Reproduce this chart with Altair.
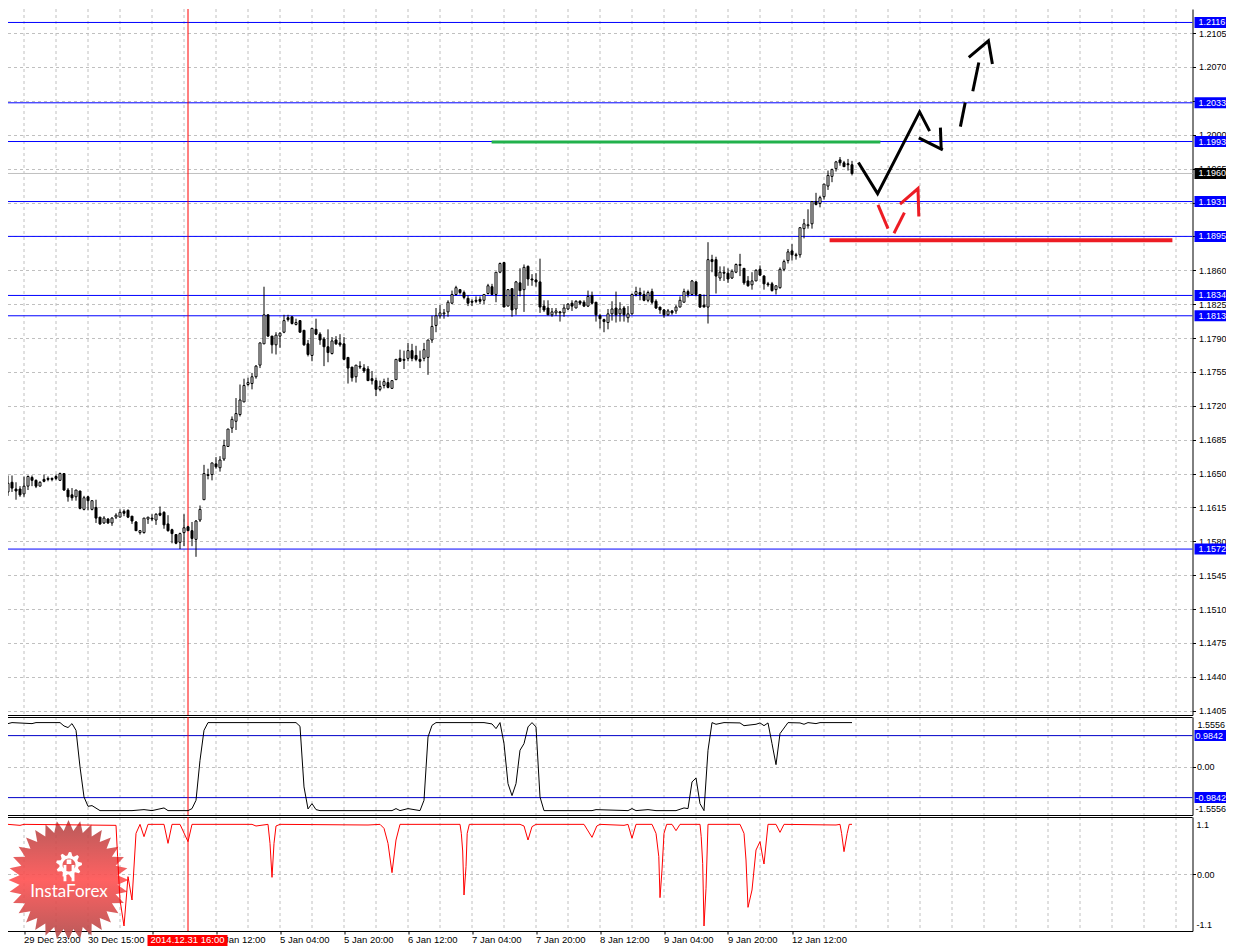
import math
import altair as alt
import pandas as pd

# ---- candles: pips above 1.1000, one value per hourly bar, first bar index 2
FIRST_BAR = 2
OPEN = [631,641,634,634,629,637,646,643,637,644,
645,645,647,643,650,633,628,626,632,613,
626,613,615,605,599,603,599,605,605,611,
612,606,600,589,589,603,604,602,609,610,
598,592,587,579,589,595,591,582,602,623,
648,649,660,656,665,678,697,704,711,724,
742,743,750,762,784,814,792,783,792,796,
811,812,804,808,798,784,772,799,794,789,
781,774,788,785,784,770,760,750,761,759,
758,748,746,737,741,744,738,747,769,768,
769,777,772,768,769,770,788,803,813,815,
817,826,835,840,837,831,828,829,830,829,
836,843,835,858,868,823,841,820,847,840,
864,851,850,848,823,821,814,816,817,816,
820,826,821,828,827,823,834,827,813,809,
806,815,821,815,821,811,815,835,837,835,
829,838,828,822,819,814,818,818,822,827,
838,835,848,835,824,822,871,871,852,858,
857,852,858,865,862,849,845,849,861,854,
846,846,840,842,861,870,880,876,876,903,
906,908,931,929,936,947,957,965,974,971,
970,969]
HIGH = [648,648,641,637,647,648,648,644,642,649,
647,646,649,651,650,635,635,633,632,627,
627,622,623,605,606,604,605,609,613,613,
613,606,601,591,604,605,608,609,616,611,
607,593,587,589,608,596,600,602,617,659,
655,661,667,668,685,696,709,728,742,748,
749,754,762,785,843,814,792,796,796,814,
814,812,810,808,798,788,800,810,796,791,
799,791,792,794,791,770,760,762,766,763,
761,756,749,746,748,749,746,768,778,777,
785,784,782,777,785,788,813,821,824,820,
829,839,844,840,839,834,830,833,833,835,
846,846,858,868,868,840,841,849,862,866,
865,856,857,872,829,829,821,821,818,825,
826,829,829,829,829,839,838,827,815,810,
820,828,838,827,823,823,836,843,842,839,
839,841,830,822,820,820,819,824,833,841,
840,850,849,835,835,889,876,874,864,864,
862,861,867,877,862,854,858,861,865,855,
848,848,844,863,871,882,887,878,904,913,
923,931,940,937,949,963,965,973,977,973,
975,973]
LOW = [627,631,623,626,626,633,637,635,637,641,
642,642,643,643,632,621,622,622,613,612,
612,612,599,597,598,598,596,603,605,606,
604,598,591,587,588,598,601,597,606,593,
590,578,577,572,575,591,575,564,600,623,
644,643,655,652,663,678,692,695,709,724,
740,737,748,759,784,791,774,773,780,795,
807,804,803,796,782,771,766,793,783,761,
765,773,783,781,767,743,745,744,758,754,
746,742,730,735,738,738,738,747,766,758,
766,766,766,759,766,752,785,796,810,810,
812,825,834,835,830,823,823,826,825,825,
835,835,827,857,822,823,812,814,833,817,
844,844,843,816,817,814,812,813,807,812,
819,818,821,824,822,822,825,807,800,796,
799,808,806,807,807,806,814,833,829,828,
827,825,820,815,811,813,814,815,822,827,
832,835,833,821,822,805,858,836,849,849,
847,851,857,854,845,843,840,849,854,840,
843,838,835,841,859,867,870,871,873,893,
903,903,927,925,933,943,951,962,968,967,
963,958]
CLOSE = [640,635,632,628,637,647,643,637,641,642,
644,644,645,650,633,626,625,633,614,625,
622,622,604,598,604,599,604,607,610,609,
605,601,591,591,604,605,603,608,607,597,
591,588,578,588,594,591,583,601,613,650,
649,661,657,664,679,696,706,712,726,741,
744,750,761,785,814,792,783,793,795,808,
809,805,806,796,783,773,800,794,788,781,
775,787,784,783,768,759,749,762,760,756,
746,746,737,740,745,739,746,768,766,767,
777,769,768,766,778,788,802,813,816,816,
827,835,842,837,832,826,827,828,828,835,
844,835,858,867,822,840,819,848,839,863,
851,850,848,822,819,814,817,818,816,821,
825,823,828,826,823,833,826,814,810,807,
815,820,814,820,814,815,835,838,835,829,
837,827,821,819,814,818,816,822,829,838,
835,849,835,822,822,871,869,854,858,857,
851,859,866,866,847,844,849,860,855,846,
845,839,844,861,869,879,876,875,904,908,
907,931,928,935,949,958,964,972,971,967,
969,960]

# ---- upper indicator
OSC_K = [2,3,8,9,15,16,17,18,19,20,21,22,23,25,33,36,38,41,42,47,48,49,50,51,52,74,75,76,77,78,79,80,98,99,100,102,105,
106,107,108,109,121,123,124,125,126,127,128,129,130,131,132,133,134,135,136,148,149,157,158,159,162,164,169,171,172,173,174,175,176,177,178,179,181,185,186,189,190,191,192,193,194,195,197,200,201,202,204,205,213]
OSC_V = [1.365,1.397,1.365,1.397,1.397,1.29,1.24,1.365,1.153,-0.01,-0.963,-1.26,-1.238,-1.397,-1.397,-1.365,-1.397,-1.312,-1.397,-1.397,-1.333,-1.069,0.2,1.153,1.397,1.397,1.28,-0.645,-1.344,-1.175,-1.365,-1.397,-1.397,-1.333,-1.397,-1.333,-1.397,
-1.069,0.94,1.31,1.397,1.397,1.355,1.206,1.397,0.73,-0.54,-0.92,-0.54,0.519,0.73,1.26,1.397,1.26,-0.963,-1.397,-1.397,-1.365,-1.397,-1.333,-1.397,-1.365,-1.397,-1.397,-1.312,-1.333,-0.487,-0.36,-1.175,-1.397,0.519,1.397,1.344,1.397,1.387,1.30,1.344,1.387,1.30,1.387,0.73,0.063,1.048,1.397,1.387,1.344,1.397,1.365,1.397,1.397]

# ---- lower indicator
LOW_K = [2,5,6,29,29.4,30,31,32,33,34,35,36,37,41,42,43,45,47,48,63,64,67,67.5,68,68.5,69,70,92,95,96,97,98,99,100,
115,115.33,115.67,116,116.5,116.8,117.33,130,131,132,133,134,146,148,149.2,150,156,157,158,159,163,164,164.7,165,165.5,166,166.67,168,169,170,175,175.3,175.67,176,176.5,177,185,186,186.5,187,188,189,190,190.8,191,192,194,195,196,209,210,210.4,211,211.8,212.3,213]
LOW_V = [0.993,0.973,0.993,0.973,0.347,-0.52,-1.04,-0.053,-0.52,0.813,0.993,0.747,0.993,0.993,0.613,0.993,0.993,0.647,0.993,0.993,0.96,0.993,0.613,-0.067,0.613,0.96,0.993,0.98,0.993,0.913,0.613,0.027,0.68,0.993,
0.993,0.813,0.46,-0.42,0.147,0.813,0.993,0.993,0.96,0.68,0.947,0.993,0.993,0.733,0.96,0.993,0.973,0.993,0.713,0.993,0.993,0.813,0.347,-0.473,0.08,0.813,0.993,0.993,0.867,0.993,0.993,0.747,0.213,-1.04,-0.287,0.993,0.993,0.813,0.28,-0.667,-0.32,0.48,0.647,0.28,0.2,0.993,0.993,0.833,0.993,0.98,0.993,0.813,0.447,0.813,0.993,0.993]

# ---- price levels and labels
LEVELS = [1.2116, 1.2033, 1.1993, 1.1931, 1.1895, 1.1834, 1.1813, 1.1572]
LAST_PRICE = 1.1960
PRICE_TICKS = [1.2105,1.2070,1.2035,1.2000,1.1965,1.1930,1.1895,1.1860,1.1825,1.1790,1.1755,1.1720,
               1.1685,1.1650,1.1615,1.1580,1.1545,1.1510,1.1475,1.1440,1.1405]
OSC_LEVELS = [0.9842, -0.9842]
CROSS_BAR = 47
CROSS_LABEL = "2014.12.31 16:00"
TIME_K = [6,22,54,70,86,102,118,134,150,166,182,198]
TIME_TXT = ["29 Dec 23:00","30 Dec 15:00","2 Jan 12:00","5 Jan 04:00","5 Jan 20:00","6 Jan 12:00",
            "7 Jan 04:00","7 Jan 20:00","8 Jan 12:00","9 Jan 04:00","9 Jan 20:00","12 Jan 12:00"]
TICK_K = [6+16*i for i in range(13)]
GRID_K = [6+8*i for i in range(37)]

# ---- hand-drawn strokes: (bar index, pips above 1.1000)
BLACK_STROKES = [
    [(214.6,971.3),(219.4,939.2),(229.9,1023.6),(232.4,1003.7)],
    [(229.7,996.8),(235.7,984.4)],
    [(235.1,1007.4),(235.3,985.1)],
    [(240.1,1008.4),(241.3,1033.2)],
    [(243.2,1045),(244.7,1074.6)],
    [(242.2,1080),(247.1,1097),(248.1,1073)],
]
RED_STROKES = [
    [(219.5,927.6),(222,903.1)],
    [(223.5,898.3),(226.1,919.6)],
    [(225,928.3),(229.5,944.4),(229.7,915.5)],
]
GREEN_BAR = [(122.9,992.6),(220.1,992.6)]
RED_BAR = [(207.4,890.9),(293.1,890.9)]

FONT = "Liberation Sans"
GRID = "#c0c0c0"
BLUE = "#0000ff"
W = 1185
H1, H2, H3 = 706, 98, 114
XS = alt.Scale(domain=[1.875, 298.125], nice=False, zero=False, padding=0)
pscale = alt.Scale(domain=[1.14006, 1.21299], nice=False, zero=False)
oscale = alt.Scale(domain=[-1.536, 1.575], nice=False, zero=False)
lscale = alt.Scale(domain=[-1.14, 1.14], nice=False, zero=False)

def px(v):
    return 1.1 + v / 10000

x_frame = alt.Axis(values=[100], grid=False, labels=False, ticks=False, domain=True, domainColor="black", title=None)
x_ticks = alt.Axis(values=TICK_K, grid=False, labels=False, ticks=True, tickSize=3, tickColor="black",
                   domain=True, domainColor="black", title=None)
price_axis = alt.Axis(orient="right", values=PRICE_TICKS, format=".4f", grid=True, gridColor=GRID, gridDash=[3, 3],
                      domain=True, domainColor="black", ticks=True, tickColor="black", tickSize=3,
                      labelPadding=3, labelFont=FONT, labelFontSize=9, labelColor="black", title=None,
                      labelOverlap=False, labelFlush=False)

def zero_axis():
    return alt.Axis(orient="right", values=[0], format=".2f", grid=True, gridColor=GRID, gridDash=[3, 3],
                    domain=True, domainColor="black", ticks=True, tickColor="black", tickSize=3,
                    labelPadding=1, labelFont=FONT, labelFontSize=9, labelColor="black", title=None)

class Panel:
    def __init__(self, xaxis, yscale, yaxis):
        self.xaxis, self.yscale, self.yaxis = xaxis, yscale, yaxis
    def X(self):
        return alt.X("k:Q", scale=XS, axis=self.xaxis, title=None)
    def Y(self, f):
        return alt.Y(f, scale=self.yscale, axis=self.yaxis, title=None)
    def grid(self):
        return alt.Chart(pd.DataFrame({"k": GRID_K})).mark_rule(color=GRID, strokeDash=[3, 3], strokeWidth=1).encode(x=self.X())
    def cross(self, top, bottom):
        return alt.Chart(pd.DataFrame({"k": [CROSS_BAR]})).mark_rule(color="#ff0000", strokeWidth=1).encode(
            x=self.X(), y=alt.value(top), y2=alt.value(bottom))
    def hline(self, values, color):
        return alt.Chart(pd.DataFrame({"v": values})).mark_rule(color=color, strokeWidth=1).encode(y=self.Y("v:Q"))
    def box(self, values, labels, color, x0, x1, xt):
        df = pd.DataFrame({"v": values, "t": labels})
        r = alt.Chart(df).mark_rule(color=color, strokeWidth=11).encode(x=alt.value(x0), x2=alt.value(x1), y=self.Y("v:Q"))
        t = alt.Chart(df).mark_text(color="white", align="left", baseline="middle", font=FONT, fontSize=9).encode(
            x=alt.value(xt), y=self.Y("v:Q"), text="t:N")
        return [r, t]
    def stroke(self, points, color, width):
        df = pd.DataFrame({"k": [p[0] for p in points], "p": [px(p[1]) for p in points], "o": range(len(points))})
        return alt.Chart(df).mark_line(color=color, strokeWidth=width, strokeCap="butt", strokeJoin="miter").encode(
            x=self.X(), y=self.Y("p:Q"), order="o:O")

def text_at(label, x, y, color="black", size=9, align="left", font=FONT):
    return alt.Chart(pd.DataFrame({"t": [label]})).mark_text(
        color=color, align=align, baseline="middle", font=font, fontSize=size).encode(
        x=alt.value(x), y=alt.value(y), text="t:N")

def top_line():
    return alt.Chart(pd.DataFrame({"a": [0]})).mark_rule(color="black", strokeWidth=1).encode(
        x=alt.value(0), x2=alt.value(W), y=alt.value(0.5))

def align_stub():
    # invisible mark that gives every panel the same left extent, so the panels line up
    return alt.Chart(pd.DataFrame({"a": [0]})).mark_rule(opacity=0, strokeWidth=1).encode(
        x=alt.value(-6), y=alt.value(10), y2=alt.value(11))

# ---- main panel
P1 = Panel(x_frame, pscale, price_axis)
n = len(OPEN)
candles = pd.DataFrame({
    "k": list(range(FIRST_BAR, FIRST_BAR + n)),
    "o": [px(v) for v in OPEN],
    "h": [px(v) for v in HIGH],
    "l": [px(v) for v in LOW],
    "c": [px(v) for v in CLOSE],
})
candles["f"] = ["white" if c >= o else "black" for o, c in zip(OPEN, CLOSE)]

wicks = alt.Chart(candles).mark_rule(color="black", strokeWidth=1).encode(x=P1.X(), y=P1.Y("l:Q"), y2="h:Q")
bodies = alt.Chart(candles).mark_bar(size=2, stroke="black", strokeWidth=1).encode(
    x=P1.X(), y=P1.Y("o:Q"), y2="c:Q", fill=alt.Fill("f:N", scale=None))

layers1 = [align_stub(), P1.grid(), P1.hline([LAST_PRICE], GRID), P1.hline(LEVELS, BLUE), P1.cross(0, H1), wicks, bodies]
layers1 += [P1.stroke(s, "black", 3) for s in BLACK_STROKES]
layers1 += [P1.stroke(s, "#ed1c24", 3) for s in RED_STROKES]
layers1 += [P1.stroke(GREEN_BAR, "#22b14c", 3), P1.stroke(RED_BAR, "#ed1c24", 4)]
layers1 += P1.box(LEVELS, [f"{v:.4f}" for v in LEVELS], BLUE, 1187, 1219, 1191)
layers1 += P1.box([LAST_PRICE], [f"{LAST_PRICE:.4f}"], "black", 1187, 1219, 1191)
panel1 = alt.layer(*layers1).properties(width=W, height=H1)

# ---- upper indicator panel
P2 = Panel(x_frame, oscale, zero_axis())
osc = alt.Chart(pd.DataFrame({"k": OSC_K, "v": OSC_V})).mark_line(color="black", strokeWidth=1).encode(
    x=P2.X(), y=P2.Y("v:Q"))
layers2 = [align_stub(), P2.grid(), top_line(), P2.hline(OSC_LEVELS, "#0000c8"), P2.cross(0, H2), osc]
layers2 += P2.box(OSC_LEVELS, ["0.9842", "-0.9842"], BLUE, 1187, 1219, 1188)
layers2 += [text_at("1.5556", 1190, 7.7), text_at("-1.5556", 1188, 92)]
panel2 = alt.layer(*layers2).properties(width=W, height=H2)

# ---- lower indicator panel
P3 = Panel(x_ticks, lscale, zero_axis())
low_line = alt.Chart(pd.DataFrame({"k": LOW_K, "v": LOW_V})).mark_line(color="#ff0000", strokeWidth=1).encode(
    x=P3.X(), y=P3.Y("v:Q"))

# logo shapes, unit path coordinates
star_pts = []
SPIKES = 32
for i in range(SPIKES * 2):
    r = 1.0 if i % 2 == 0 else 0.82
    a = math.pi * i / SPIKES - math.pi / 2
    star_pts.append(f"{r*math.cos(a):.4f},{r*math.sin(a):.4f}")
STAR = "M" + "L".join(star_pts) + "Z"

gear_pts = []
TEETH = 9
for i in range(TEETH * 4):
    r = 1.0 if i % 4 in (0, 1) else 0.74
    a = 2 * math.pi * i / (TEETH * 4) - math.pi / 2
    gear_pts.append(f"{r*math.cos(a):.4f},{r*math.sin(a):.4f}")
hole = []
for i in range(24, -1, -1):
    a = 2 * math.pi * i / 24
    hole.append(f"{0.5*math.cos(a):.4f},{0.5*math.sin(a):.4f}")
GEAR = ("M" + "L".join(gear_pts) + "Z" + "M" + "L".join(hole) + "Z"
        + "M-0.42,0.0L-0.2,0.0L-0.2,1.25L-0.42,1.25Z"
        + "M0.2,0.0L0.42,0.0L0.42,1.25L0.2,1.25Z"
        + "M-0.18,-0.42L0.18,-0.42L0.18,-0.08L-0.18,-0.08Z")

gradient = alt.Gradient(gradient="linear", x1=0, x2=0, y1=0, y2=1, stops=[
    alt.GradientStop(color="#b04848", offset=0),
    alt.GradientStop(color="#ff5050", offset=0.5),
    alt.GradientStop(color="#b04848", offset=1)])
dot = pd.DataFrame({"a": [0]})
star = alt.Chart(dot).mark_point(shape=STAR, filled=True, fill=gradient, size=14400, opacity=0.9).encode(
    x=alt.value(61), y=alt.value(63))
gear = alt.Chart(dot).mark_point(shape=GEAR, filled=True, fill="white", size=676, opacity=1).encode(
    x=alt.value(61.5), y=alt.value(48))
brand = text_at("InstaForex", 61.5, 75, color="white", size=17, align="center", font="Lato")

times = alt.Chart(pd.DataFrame({"k": TIME_K, "t": TIME_TXT})).mark_text(
    align="left", baseline="middle", font=FONT, fontSize=9.5, color="black").encode(
    x=P3.X(), y=alt.value(123), text="t:N")
cross_box = alt.Chart(pd.DataFrame({"a": [0]})).mark_rule(color="#ff0000", strokeWidth=11).encode(
    x=alt.value(140), x2=alt.value(220), y=alt.value(123.5))
cross_txt = text_at(CROSS_LABEL, 180, 123, color="white", size=9.5, align="center")

panel3 = alt.layer(
    align_stub(), P3.grid(), top_line(), star, gear, brand, P3.cross(0, H3), low_line, times, cross_box, cross_txt,
    text_at("1.1", 1189, 7.7), text_at("-1.1", 1189, 108),
).properties(width=W, height=H3)

chart = alt.vconcat(panel1, panel2, panel3, spacing=0).properties(
    padding={"left": -6.5, "top": 0, "right": -7, "bottom": 0}, background="white").configure_view(stroke=None)
chart.save("out.html", embed_options={"renderer": "svg", "actions": False})
